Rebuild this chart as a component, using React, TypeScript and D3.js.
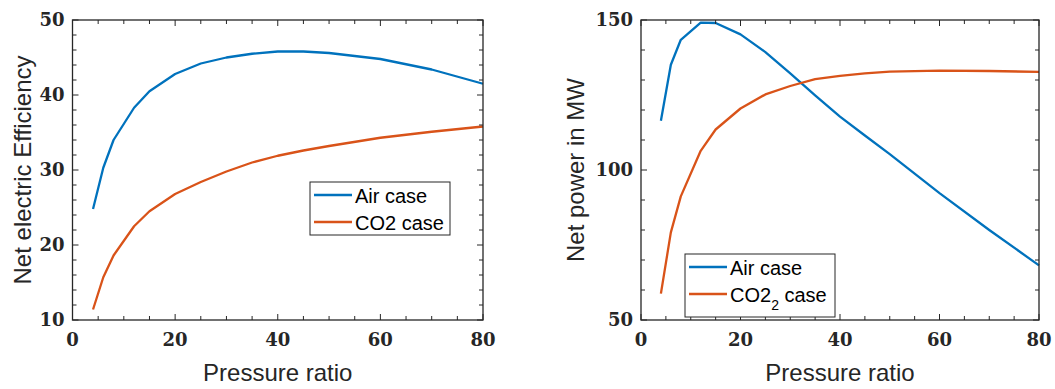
import React from "react";
import * as d3 from "d3";

// Pressure ratios at which the cycle was evaluated
const pressureRatio = [4, 6, 8, 12, 15, 20, 25, 30, 35, 40, 45, 50, 60, 70, 80];

// Net electric efficiency (%)
const effAir = [24.8, 30.3, 34.0, 38.3, 40.5, 42.8, 44.2, 45.0, 45.5, 45.8, 45.8, 45.6, 44.8, 43.4, 41.5];
const effCO2 = [11.4, 15.7, 18.6, 22.5, 24.5, 26.8, 28.4, 29.8, 31.0, 31.9, 32.6, 33.2, 34.3, 35.1, 35.8];

// Net power output (MW)
const powAir = [116.4, 135.1, 143.4, 149.1, 149.0, 145.2, 139.3, 132.2, 124.9, 117.8, 111.5, 105.3, 92.3, 80.0, 68.2];
const powCO2 = [58.8, 79.2, 91.2, 106.4, 113.5, 120.5, 125.2, 128.0, 130.3, 131.4, 132.2, 132.8, 133.1, 133.0, 132.7];

const xTicks = [0, 20, 40, 60, 80];
const effTicks = [10, 20, 30, 40, 50];
const powTicks = [50, 100, 150];

const BLUE = "#0072BD";
const ORANGE = "#D95319";
const AXIS = "#262626";
const TICK_FONT = "'DejaVu Serif', serif";
const LABEL_FONT = "'Liberation Sans', Arial, sans-serif";

type PanelProps = {
  left: number;
  right: number;
  top: number;
  bottom: number;
  yDomain: [number, number];
  yTicks: number[];
  yMinorStep: number;
  air: number[];
  co2: number[];
  yLabel: string;
  yLabelX: number;
  legend: { x: number; y: number; w: number; h: number; sub: boolean };
};

function Panel(p: PanelProps) {
  const x = d3.scaleLinear().domain([0, 80]).range([p.left, p.right]);
  const y = d3.scaleLinear().domain(p.yDomain).range([p.bottom, p.top]);
  const line = d3
    .line<number>()
    .x((_, i) => x(pressureRatio[i]))
    .y((d) => y(d));

  const xMinor = d3.range(0, 80 + 0.001, 5);
  const yMinor = d3.range(p.yDomain[0], p.yDomain[1] + 0.001, p.yMinorStep);
  const majorLen = 6;
  const minorLen = 4;

  const lg = p.legend;
  const midY = (p.top + p.bottom) / 2;

  return (
    <g>
      <defs>
        <clipPath id={`clip-${p.left}`}>
          <rect x={p.left} y={p.top - 2} width={p.right - p.left + 2} height={p.bottom - p.top + 4} />
        </clipPath>
      </defs>
      {/* data lines */}
      <g clipPath={`url(#clip-${p.left})`}>
        <path d={line(p.air) || ""} fill="none" stroke={BLUE} strokeWidth={2.3} strokeLinejoin="round" />
        <path d={line(p.co2) || ""} fill="none" stroke={ORANGE} strokeWidth={2.3} strokeLinejoin="round" />
      </g>

      {/* ticks on all four sides, pointing inward */}
      <g stroke={AXIS} strokeWidth={1}>
        {xMinor.map((v) => {
          const len = xTicks.includes(v) ? majorLen : minorLen;
          return (
            <g key={`xt${v}`}>
              <line x1={x(v)} x2={x(v)} y1={p.bottom} y2={p.bottom - len} />
              <line x1={x(v)} x2={x(v)} y1={p.top} y2={p.top + len} />
            </g>
          );
        })}
        {yMinor.map((v) => {
          const len = p.yTicks.includes(v) ? majorLen : minorLen;
          return (
            <g key={`yt${v}`}>
              <line x1={p.left} x2={p.left + len} y1={y(v)} y2={y(v)} />
              <line x1={p.right} x2={p.right - len} y1={y(v)} y2={y(v)} />
            </g>
          );
        })}
      </g>

      {/* axes box */}
      <rect
        x={p.left}
        y={p.top}
        width={p.right - p.left}
        height={p.bottom - p.top}
        fill="none"
        stroke={AXIS}
        strokeWidth={1.3}
      />

      {/* tick labels */}
      <g fontFamily={TICK_FONT} fontWeight="bold" fontSize={18} fill={AXIS}>
        {xTicks.map((v) => (
          <text key={`xl${v}`} x={x(v)} y={346} textAnchor="middle">
            {v}
          </text>
        ))}
        {p.yTicks.map((v) => (
          <text key={`yl${v}`} x={p.left - 8} y={y(v)} dy="0.36em" textAnchor="end">
            {v}
          </text>
        ))}
      </g>

      {/* axis titles */}
      <g fontFamily={LABEL_FONT} fontSize={24} fill={AXIS}>
        <text x={(p.left + p.right) / 2} y={381} textAnchor="middle">
          Pressure ratio
        </text>
        <text
          x={p.yLabelX}
          y={midY}
          textAnchor="middle"
          transform={`rotate(-90 ${p.yLabelX} ${midY})`}
        >
          {p.yLabel}
        </text>
      </g>

      {/* legend */}
      <g>
        <rect x={lg.x} y={lg.y} width={lg.w} height={lg.h} fill="#fff" stroke={AXIS} strokeWidth={1} />
        <line x1={lg.x + 4} x2={lg.x + 42} y1={lg.y + 13} y2={lg.y + 13} stroke={BLUE} strokeWidth={2.3} />
        <line x1={lg.x + 4} x2={lg.x + 42} y1={lg.y + 40} y2={lg.y + 40} stroke={ORANGE} strokeWidth={2.3} />
        <g fontFamily={LABEL_FONT} fontSize={20} fill="#000">
          <text x={lg.x + 45} y={lg.y + 21}>
            Air case
          </text>
          {lg.sub ? (
            <text x={lg.x + 45} y={lg.y + 48}>
              CO2
              <tspan fontSize={14} dy={8}>
                2
              </tspan>
              <tspan dy={-8}> case</tspan>
            </text>
          ) : (
            <text x={lg.x + 45} y={lg.y + 48}>
              CO2 case
            </text>
          )}
        </g>
      </g>
    </g>
  );
}

export default function App() {
  return (
    <svg
      width={1055}
      height={389}
      viewBox="0 0 1055 389"
      style={{ position: "absolute", left: 0, top: 0, background: "#fff" }}
    >
      <Panel
        left={72.5}
        right={483}
        top={20}
        bottom={320}
        yDomain={[10, 50]}
        yTicks={effTicks}
        yMinorStep={2}
        air={effAir}
        co2={effCO2}
        yLabel="Net electric Efficiency"
        yLabelX={31}
        legend={{ x: 310, y: 182, w: 140, h: 53, sub: false }}
      />
      <Panel
        left={641}
        right={1039}
        top={20}
        bottom={320}
        yDomain={[50, 150]}
        yTicks={powTicks}
        yMinorStep={10}
        air={powAir}
        co2={powCO2}
        yLabel="Net power in MW"
        yLabelX={584}
        legend={{ x: 685, y: 254, w: 150, h: 63, sub: true }}
      />
    </svg>
  );
}
